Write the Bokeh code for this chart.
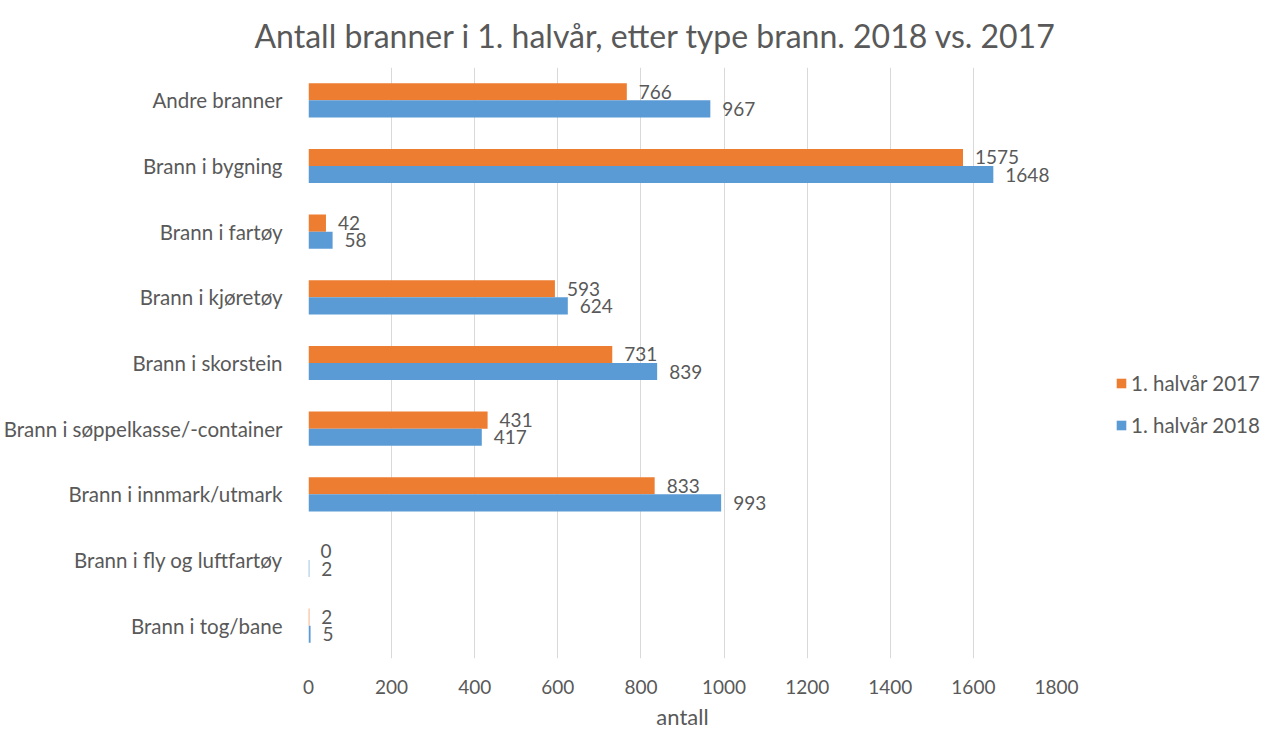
from bokeh.plotting import figure
from bokeh.models import (ColumnDataSource, FactorRange, Range1d, FixedTicker,
                          Legend, LegendItem, LabelSet)
from bokeh.core.properties import value
from bokeh.transform import dodge
from bokeh.embed import file_html
from bokeh.resources import INLINE

categories = ["Andre branner", "Brann i bygning", "Brann i fartøy", "Brann i kjøretøy",
              "Brann i skorstein", "Brann i søppelkasse/-container", "Brann i innmark/utmark",
              "Brann i fly og luftfartøy", "Brann i tog/bane"]
values_2017 = [766, 1575, 42, 593, 731, 431, 833, 0, 2]
values_2018 = [967, 1648, 58, 624, 839, 417, 993, 2, 5]
series_names = ["1. halvår 2017", "1. halvår 2018"]
x_ticks = [0, 200, 400, 600, 800, 1000, 1200, 1400, 1600, 1800]

FONT = "Lato"
TXT = "#595959"
ORANGE = "#ED7D31"
BLUE = "#5B9BD5"

src = ColumnDataSource(dict(cat=categories, v17=values_2017, v18=values_2018,
                            l17=[str(v) for v in values_2017],
                            l18=[str(v) for v in values_2018]))

p = figure(frame_width=748, frame_height=591, output_backend="svg", toolbar_location=None,
           y_range=FactorRange(factors=list(reversed(categories))),
           x_range=Range1d(0, 1800),
           min_border_left=303, min_border_right=0, min_border_top=0,
           min_border_bottom=0)

p.title.text = "Antall branner i 1. halvår, etter type brann. 2018 vs. 2017"
p.title.text_font = FONT
p.title.text_font_size = "32px"
p.title.text_font_style = "normal"
p.title.text_color = TXT
p.title.align = "left"
p.title.offset = -54
p.title.standoff = 26

r17 = p.hbar(y=dodge("cat", 0.13, range=p.y_range), right="v17", left=0, height=0.26,
             source=src, fill_color=ORANGE, line_color=None)
r18 = p.hbar(y=dodge("cat", -0.13, range=p.y_range), right="v18", left=0, height=0.26,
             source=src, fill_color=BLUE, line_color=None)

for col, lab, dy in (("v17", "l17", 0.13), ("v18", "l18", -0.13)):
    p.add_layout(LabelSet(x=col, y=dodge("cat", dy, range=p.y_range), text=lab, source=src,
                          x_offset=12, text_baseline="middle", text_align="left",
                          text_font=value(FONT), text_font_size=value("19px"),
                          text_color=TXT))

p.xaxis.ticker = FixedTicker(ticks=x_ticks)
p.xaxis.axis_label = "antall"
p.xaxis.axis_label_text_font = FONT
p.xaxis.axis_label_text_font_size = "22px"
p.xaxis.axis_label_text_font_style = "normal"
p.xaxis.axis_label_text_color = TXT
p.xaxis.axis_label_standoff = 6
for ax in (p.xaxis, p.yaxis):
    ax.axis_line_color = None
    ax.major_tick_line_color = None
    ax.minor_tick_line_color = None
    ax.major_label_text_font = FONT
    ax.major_label_text_color = TXT
p.xaxis.major_label_text_font_size = "19px"
p.yaxis.major_label_text_font_size = "20.5px"
p.xaxis.major_label_standoff = 15
p.yaxis.major_label_standoff = 20

p.xgrid.grid_line_color = "#D9D9D9"
p.ygrid.grid_line_color = None
p.outline_line_color = None

legend = Legend(items=[LegendItem(label=series_names[0], renderers=[r17]),
                       LegendItem(label=series_names[1], renderers=[r18])],
                location=(59, 221), orientation="vertical",
                label_text_font=FONT, label_text_font_size="20.5px", label_text_color=TXT,
                glyph_width=12, glyph_height=12, label_standoff=4, spacing=17,
                label_height=25, padding=0, margin=0, border_line_color=None,
                background_fill_alpha=0)
p.add_layout(legend, "right")

open("out.html", "w").write(file_html(p, INLINE))
